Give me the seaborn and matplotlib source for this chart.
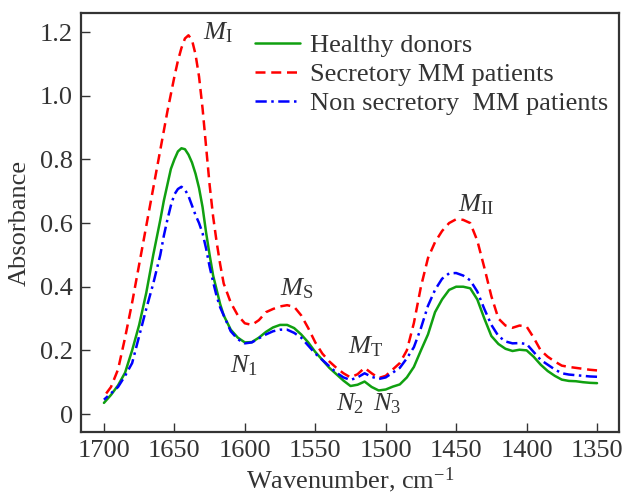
import matplotlib
matplotlib.use("Agg")
import matplotlib.pyplot as plt
import seaborn as sns

# wavenumber grid (cm-1), denser around the amide I peak
wavenumber = [1700, 1695, 1690, 1685, 1680, 1675, 1670, 1665,
              1660, 1657.5, 1655, 1652.5, 1650, 1647.5, 1645, 1642.5, 1640,
              1637.5, 1635, 1632.5, 1630, 1627.5, 1625, 1622.5, 1620, 1617.5,
              1615, 1610, 1605,
              1600, 1595, 1590, 1585, 1580, 1575, 1570, 1565, 1560, 1555,
              1550, 1545, 1540, 1535, 1530, 1525, 1520, 1515, 1510, 1505,
              1500, 1495, 1490, 1485, 1480, 1475, 1470, 1465, 1460, 1455,
              1450, 1445, 1440, 1435, 1430, 1425, 1420, 1415, 1410, 1405,
              1400, 1395, 1390, 1385, 1380, 1375, 1370, 1365, 1360, 1355,
              1350]

healthy = [0.035, 0.06, 0.09, 0.13, 0.20, 0.28, 0.38, 0.50,
           0.61, 0.67, 0.72, 0.77, 0.80, 0.825, 0.835, 0.832, 0.815,
           0.79, 0.755, 0.71, 0.65, 0.57, 0.50, 0.435, 0.39, 0.345,
           0.31, 0.265, 0.24,
           0.225, 0.226, 0.24, 0.258, 0.272, 0.28, 0.28, 0.27, 0.25, 0.225,
           0.195, 0.17, 0.145, 0.125, 0.105, 0.088, 0.092, 0.102, 0.085, 0.074,
           0.077, 0.086, 0.093, 0.115, 0.148, 0.20, 0.25, 0.32, 0.36, 0.39,
           0.40, 0.40, 0.395, 0.36, 0.30, 0.245, 0.22, 0.205, 0.198, 0.202,
           0.20, 0.18, 0.155, 0.135, 0.12, 0.108, 0.104, 0.103, 0.10, 0.098,
           0.097]

secretory = [0.055, 0.085, 0.14, 0.24, 0.35, 0.47, 0.59, 0.71,
             0.83, 0.89, 0.95, 1.005, 1.06, 1.11, 1.15, 1.18, 1.19,
             1.175, 1.13, 1.06, 0.96, 0.84, 0.72, 0.62, 0.54, 0.47,
             0.41, 0.35, 0.31,
             0.285, 0.28, 0.295, 0.32, 0.33, 0.338, 0.342, 0.337, 0.31, 0.27,
             0.225, 0.19, 0.165, 0.145, 0.128, 0.115, 0.125, 0.145, 0.128, 0.113,
             0.12, 0.14, 0.16, 0.20, 0.286, 0.40, 0.49, 0.54, 0.575, 0.60,
             0.612, 0.61, 0.60, 0.545, 0.46, 0.37, 0.30, 0.278, 0.271, 0.278,
             0.275, 0.24, 0.20, 0.18, 0.165, 0.152, 0.148, 0.145, 0.142, 0.139,
             0.137]

non_secretory = [0.045, 0.065, 0.085, 0.12, 0.16, 0.245, 0.33, 0.41,
                 0.50, 0.56, 0.61, 0.655, 0.69, 0.707, 0.714, 0.705, 0.685,
                 0.655, 0.625, 0.60, 0.568, 0.52, 0.463, 0.415, 0.37, 0.335,
                 0.31, 0.26, 0.235,
                 0.222, 0.225, 0.238, 0.25, 0.26, 0.265, 0.265, 0.255, 0.24, 0.215,
                 0.19, 0.17, 0.15, 0.13, 0.115, 0.107, 0.115, 0.128, 0.117, 0.11,
                 0.115, 0.13, 0.145, 0.175, 0.21, 0.27, 0.34, 0.39, 0.425, 0.442,
                 0.443, 0.435, 0.42, 0.385, 0.33, 0.28, 0.245, 0.228, 0.222, 0.223,
                 0.22, 0.195, 0.17, 0.155, 0.14, 0.128, 0.124, 0.122, 0.12, 0.118,
                 0.117]

labels = ["Healthy donors", "Secretory MM patients", "Non secretory  MM patients"]

# band labels: (text, x, y) at text baseline
bands = [(r"$M_{\mathrm{I}}$", 1629.7, 1.177),
         (r"$M_{\mathrm{S}}$", 1575, 0.374),
         (r"$N_{1}$", 1610.5, 0.132),
         (r"$M_{\mathrm{T}}$", 1526.7, 0.192),
         (r"$N_{2}$", 1535, 0.0126),
         (r"$N_{3}$", 1509, 0.0126),
         (r"$M_{\mathrm{II}}$", 1448.6, 0.637)]

sns.set_style("ticks")
plt.rcParams["font.family"] = ["Liberation Serif", "DejaVu Serif"]
plt.rcParams["mathtext.fontset"] = "custom"
plt.rcParams["mathtext.rm"] = "Liberation Serif"
plt.rcParams["mathtext.it"] = "Liberation Serif:italic"
plt.rcParams["mathtext.bf"] = "Liberation Serif:bold"
txt = "#333333"
fs = 19

fig = plt.figure(figsize=(6.23, 5.0), dpi=100)
ax = fig.add_axes([0.130, 0.136, 0.8636, 0.838])

styles = [("#10a010", "-"),
          ("#ff0000", (0, (4.0, 2.3))),
          ("#0000ff", (0, (4.5, 1.8, 1.0, 1.8)))]
for vals, lab, (col, ls) in zip([healthy, secretory, non_secretory], labels, styles):
    sns.lineplot(x=wavenumber, y=vals, ax=ax, color=col, linestyle=ls,
                 linewidth=1.8, label=lab)

for t, x, y in bands:
    ax.text(x, y, t, fontsize=fs, color=txt, ha="left", va="baseline")

ax.set_xlim(1716.3, 1334.4)
ax.set_ylim(-0.0565, 1.26)
ax.set_xticks([1700, 1650, 1600, 1550, 1500, 1450, 1400, 1350])
ax.set_yticks([0, 0.2, 0.4, 0.6, 0.8, 1.0, 1.2])
ax.set_yticklabels(["0", "0.2", "0.4", "0.6", "0.8", "1.0", "1.2"])
ax.tick_params(direction="in", length=6.5, width=1.0, colors="#333333",
               labelsize=fs, labelcolor=txt, pad=6)
for s in ax.spines.values():
    s.set_linewidth(1.6)
    s.set_color("#333333")

ax.set_xlabel("Wavenumber, cm$^{-1}$", fontsize=fs, color=txt, labelpad=2)
ax.set_ylabel("Absorbance", fontsize=fs, color=txt, labelpad=6)

ax.legend(loc="upper left", bbox_to_anchor=(255 / 623, 1 - 34 / 500),
          bbox_transform=fig.transFigure, frameon=False, fontsize=fs,
          handlelength=1.7, handletextpad=0.4, labelspacing=0.2,
          borderpad=0, borderaxespad=0, labelcolor=txt)

fig.savefig("out.png", dpi=100)
